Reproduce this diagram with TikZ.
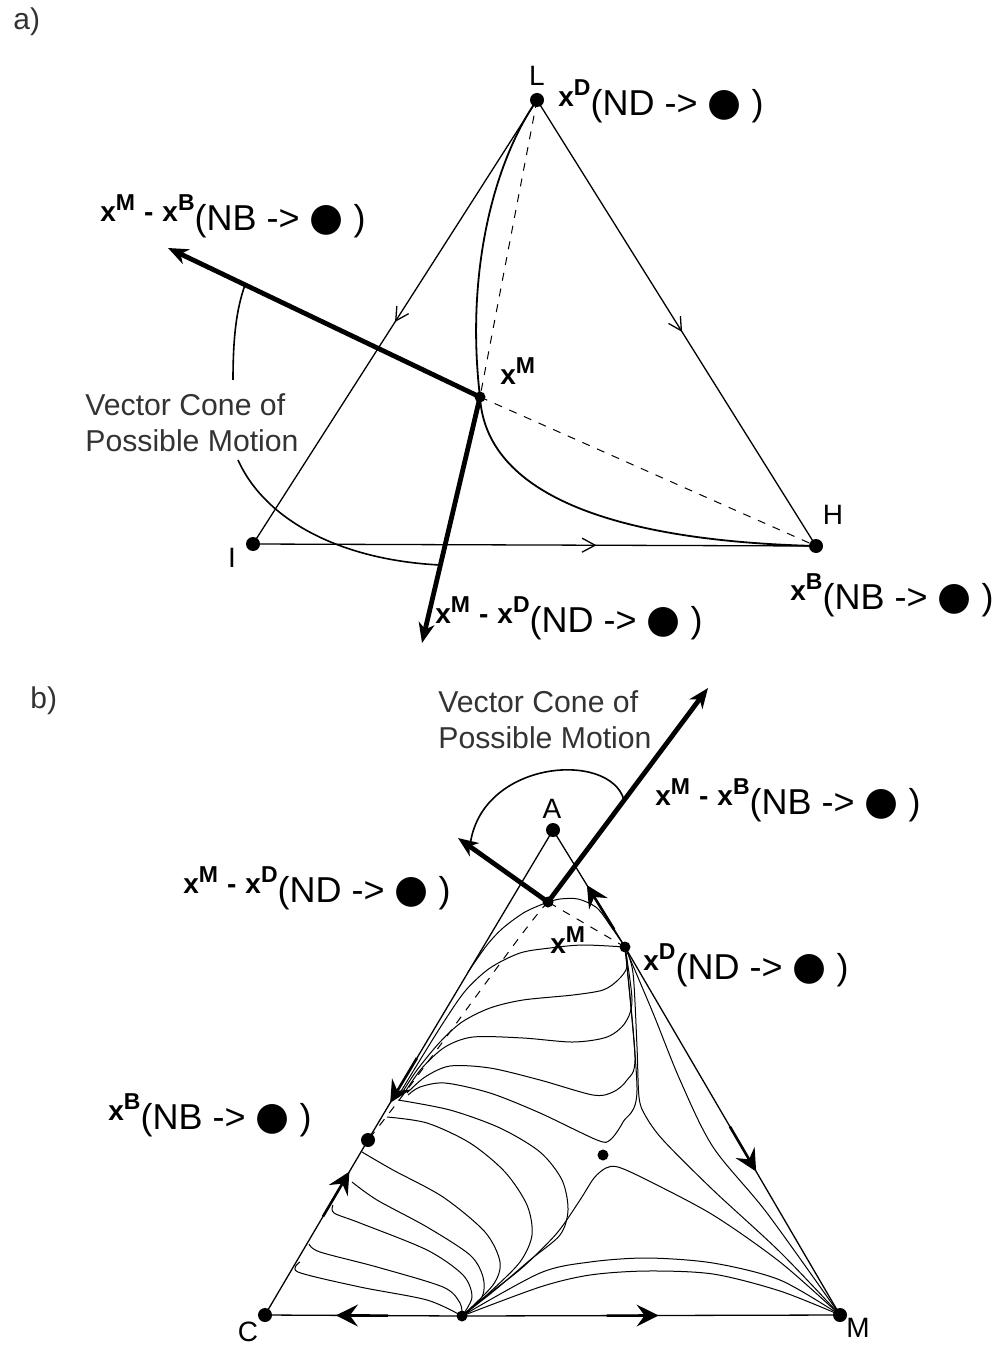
\documentclass[tikz,border=0pt]{standalone}
\usepackage{fontspec}
\setmainfont{Liberation Sans}
\newfontfamily\bulletfont{DejaVu Sans}
\usetikzlibrary{arrows.meta,decorations.markings}
\newcommand{\xsup}[1]{{\bfseries x\raisebox{5.5pt}{\fontsize{11.5}{11.5}\selectfont #1}}}
\newcommand{\xminus}{\hspace{4.5pt}{\bfseries -}\hspace{4.5pt}}
\newcommand{\tailof}[1]{\raisebox{-4.5pt}{\fontsize{18}{18}\selectfont(#1 -> {\bulletfont\fontsize{19.5}{19.5}\selectfont ●} )}}
\tikzset{
  dot/.style={circle, fill, inner sep=0pt, minimum size=7pt},
  smalldot/.style={circle, fill, inner sep=0pt, minimum size=5.5pt},
  triside/.style={line width=0.65pt},
  traj/.style={line width=0.5pt},
  sepline/.style={line width=0.9pt},
  dashline/.style={line width=0.5pt, dash pattern=on 4pt off 4pt},
  vec/.style={line width=2.4pt, -{Stealth[length=10pt,width=8pt,inset=3pt]}},
  conearc/.style={line width=0.8pt},
  smallarrow/.style={postaction={decorate}, decoration={markings, mark=at position #1 with {\arrow{Straight Barb[length=6.5pt,width=7pt]}}}},
  bigarrow/.style={postaction={decorate}, decoration={markings, mark=at position #1 with {\draw[line width=1.3pt] (-26pt,0) -- (-4pt,0); \arrow{Stealth[length=11pt,width=11pt,inset=4pt]}}}},
  lab/.style={inner sep=0pt, font=\fontsize{14}{14}\selectfont},
  vtxlab/.style={inner sep=0pt, font=\fontsize{14}{14}\selectfont},
  panellab/.style={inner sep=0pt, text=black!80, font=\fontsize{15}{15}\selectfont},
  conetext/.style={align=left, inner sep=0pt, text=black!80, font=\fontsize{15.1}{18}\selectfont}
}
\begin{document}
\begin{tikzpicture}[x=0.5pt, y=-0.5pt]
  \useasboundingbox (0,0) rectangle (995,1347);

  % a)
  \coordinate (L) at (537,100);
  \coordinate (I) at (253,544);
  \coordinate (H) at (816,546);
  \coordinate (aXM) at (480,397);
  \coordinate (aVB) at (168,248);
  \coordinate (aVD) at (422,643);
  \coordinate (aC1) at (245,285);
  \coordinate (aC2) at (233,380);
  \coordinate (aC3) at (238,460);
  \coordinate (aC4) at (440,565);

  \draw[triside, smallarrow=0.5] (L) -- (I);
  \draw[triside, smallarrow=0.52] (L) -- (H);
  \draw[triside, smallarrow=0.61] (I) -- (H);
  \draw[dashline] (L) -- (aXM);
  \draw[dashline] (aXM) -- (H);
  \draw[sepline] (L) .. controls (495,160) and (465,270) .. (aXM);
  \draw[sepline] (aXM) .. controls (485,480) and (580,540) .. (H);
  \draw[vec] (aXM) -- (aVB);
  \draw[vec] (aXM) -- (aVD);
  \draw[conearc] (aC1) .. controls (236,310) and (233,340) .. (aC2);
  \draw[conearc] (aC3) .. controls (265,520) and (340,560) .. (aC4);

  \node[dot] (Ldot) at (L) {};
  \node[dot] (Idot) at (I) {};
  \node[dot] (Hdot) at (H) {};
  \node[smalldot] (aXMdot) at (aXM) {};

  \node[panellab, anchor=base west] (laba) at (13,30) {a)};
  \node[vtxlab] (labL) at (537,76) {L};
  \node[vtxlab] (labI) at (232,558) {I};
  \node[vtxlab] (labH) at (833,515) {H};
  \node[lab, anchor=base west] (labaXD) at (558,107) {\xsup{D}\tailof{ND}};
  \node[lab, anchor=base west] (labaXM) at (500,385) {\xsup{M}};
  \node[lab, anchor=base west] (labaVB) at (100,222) {\xsup{M}\xminus\xsup{B}\tailof{NB}};
  \node[lab, anchor=base west] (labaVD) at (435,623) {\xsup{M}\xminus\xsup{D}\tailof{ND}};
  \node[lab, anchor=base west] (labaXB) at (790,600) {\xsup{B}\tailof{NB}};
  \node[conetext, anchor=west] (coneatext) at (85,423) {Vector Cone of\\Possible Motion};

  % b)
  \coordinate (A) at (553,830);
  \coordinate (C) at (265,1315);
  \coordinate (M) at (840,1315);
  \coordinate (mid) at (462,1316);
  \coordinate (bXM) at (548,902);
  \coordinate (bXD) at (625,947);
  \coordinate (bXB) at (368,1140);
  \coordinate (ctr) at (603,1155);
  \coordinate (bVB) at (708,688);
  \coordinate (bVD) at (458,838);
  \coordinate (bC1) at (470,846);
  \coordinate (bC2) at (624,800);

  \draw[triside, bigarrow=0.53] (bXD) -- (A);
  \draw[triside, bigarrow=0.88] (A) -- (bXB);
  \draw[triside, bigarrow=0.82] (C) -- (bXB);
  \draw[triside, bigarrow=0.64] (mid) -- (C);
  \draw[triside, bigarrow=0.52] (mid) -- (M);
  \draw[triside, bigarrow=0.61] (bXD) -- (M);
  \draw[dashline] (bXD) -- (bXM);
  \draw[dashline] (bXM) .. controls (525,925) and (440,1050) .. (bXB);

  \draw[traj] plot[smooth] coordinates {(bXD) (612,928) (597,908) (578,899) (560,899) (bXM)};
  \draw[traj] plot[smooth] coordinates {(bXM) (525,912) (503,928) (487,945) (468,972)};
  \draw[traj] plot[smooth] coordinates {(bXD) (583,945) (550,948) (520,953) (490,968) (466,990) (445,1020) (420,1060) (400,1093)};
  \draw[traj] plot[smooth] coordinates {(bXD) (627,967) (618,980) (603,990) (573,995) (523,1000) (490,1008) (462,1022) (440,1042) (417,1070) (402,1093)};
  \draw[traj] plot[smooth] coordinates {(bXD) (632,1000) (625,1023) (607,1037) (573,1042) (523,1038) (473,1037) (445,1047) (422,1068) (405,1092)};
  \draw[traj] plot[smooth] coordinates {(bXD) (635,1057) (627,1080) (613,1092) (593,1095) (540,1080) (490,1068) (450,1066) (425,1077) (407,1093)};
  \draw[traj] plot[smooth] coordinates {(bXD) (637,1090) (623,1122) (610,1140) (597,1140) (540,1113) (490,1093) (445,1083) (420,1087) (408,1095)};
  \draw[traj] plot[smooth] coordinates {(bXD) (653,1013) (680,1080) (713,1147) (767,1213) (M)};
  \draw[traj] plot[smooth] coordinates {(bXD) (633,973) (637,1047) (639,1097) (645,1115) (663,1140) (713,1190) (780,1252) (M)};
  \draw[traj] plot[smooth] coordinates {(mid) (490,1293) (523,1267) (557,1233) (580,1200) (594,1178) (606,1168) (618,1167) (647,1180) (713,1215) (780,1262) (M)};
  \draw[traj] plot[smooth] coordinates {(mid) (540,1273) (590,1262) (647,1258) (713,1263) (780,1280) (M)};
  \draw[traj] plot[smooth] coordinates {(mid) (540,1287) (590,1275) (647,1271) (713,1274) (780,1291) (M)};
  \draw[traj] plot[smooth] coordinates {(398,1100) (450,1110) (500,1128) (540,1152) (562,1180) (568,1210) (560,1235) (530,1260) (495,1290) (mid)};
  \draw[traj] plot[smooth] coordinates {(387,1117) (427,1123) (470,1143) (505,1172) (527,1205) (532,1235) (520,1262) (490,1292) (mid)};
  \draw[traj] plot[smooth] coordinates {(362,1152) (393,1170) (443,1197) (485,1232) (500,1262) (493,1285) (mid)};
  \draw[traj] plot[smooth] coordinates {(352,1182) (377,1200) (427,1227) (470,1255) (483,1277) (482,1297) (mid)};
  \draw[traj] plot[smooth] coordinates {(333,1205) (334,1213) (360,1223) (427,1250) (463,1275) (472,1297) (mid)};
  \draw[traj] plot[smooth] coordinates {(309,1244) (320,1252) (377,1267) (443,1287) (460,1303) (mid)};
  \draw[traj] plot[smooth] coordinates {(300,1262) (298,1272) (360,1287) (427,1300) (mid)};

  \draw[vec] (bXM) -- (bVB);
  \draw[vec] (bXM) -- (bVD);
  \draw[conearc] (bC1) .. controls (480,760) and (610,750) .. (bC2);

  \node[dot] (Adot) at (A) {};
  \node[dot] (Cdot) at (C) {};
  \node[dot] (Mdot) at (M) {};
  \node[smalldot] (middot) at (mid) {};
  \node[smalldot] (bXMdot) at (bXM) {};
  \node[smalldot] (bXDdot) at (bXD) {};
  \node[dot] (bXBdot) at (bXB) {};
  \node[smalldot] (ctrdot) at (ctr) {};

  \node[panellab, anchor=base west] (labb) at (30,708) {b)};
  \node[vtxlab] (labA) at (552,809) {A};
  \node[vtxlab] (labC) at (248,1332) {C};
  \node[vtxlab] (labM) at (858,1328) {M};
  \node[lab, anchor=base west] (labbVB) at (655,805) {\xsup{M}\xminus\xsup{B}\tailof{NB}};
  \node[lab, anchor=base west] (labbVD) at (183,893) {\xsup{M}\xminus\xsup{D}\tailof{ND}};
  \node[lab, anchor=base west] (labbXM) at (550,953) {\xsup{M}};
  \node[lab, anchor=base west] (labbXD) at (643,970) {\xsup{D}\tailof{ND}};
  \node[lab, anchor=base west] (labbXB) at (108,1120) {\xsup{B}\tailof{NB}};
  \node[conetext, anchor=west] (conebtext) at (438,720) {Vector Cone of\\Possible Motion};
\end{tikzpicture}
\end{document}
